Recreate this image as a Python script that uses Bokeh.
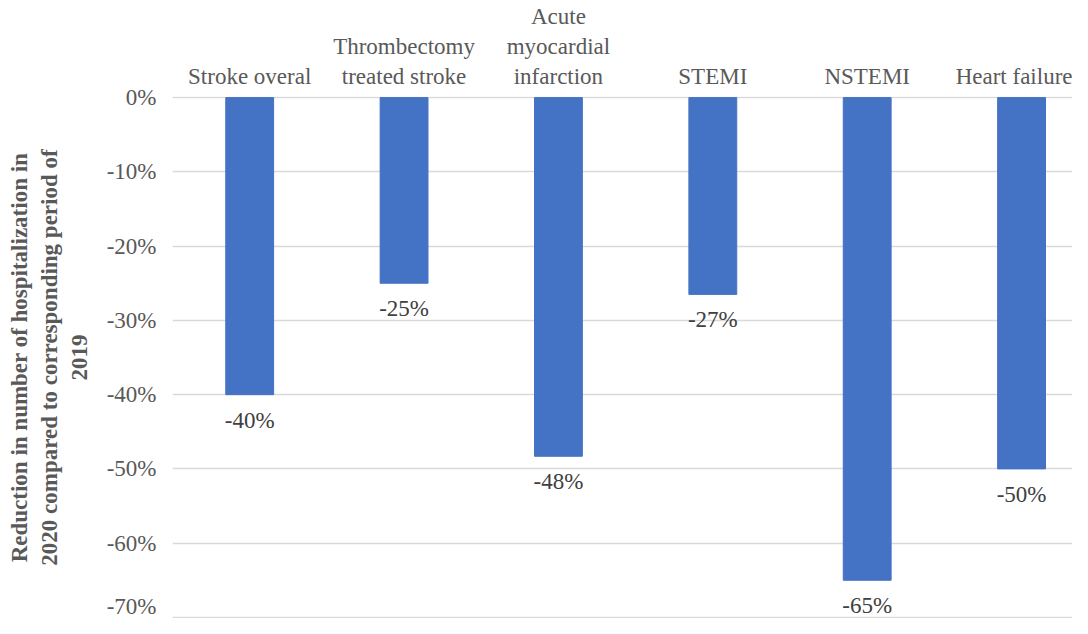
from bokeh.plotting import figure
from bokeh.models import Range1d, FixedTicker, NumeralTickFormatter, ColumnDataSource
from bokeh.core.properties import value
from bokeh.embed import file_html
from bokeh.resources import INLINE

categories = ["Stroke overal", "Thrombectomy\ntreated stroke", "Acute\nmyocardial\ninfarction",
              "STEMI", "NSTEMI", "Heart failure"]
values = [-0.40, -0.25, -0.483, -0.265, -0.65, -0.50]
labels = ["-40%", "-25%", "-48%", "-27%", "-65%", "-50%"]
y_ticks = [0, -0.1, -0.2, -0.3, -0.4, -0.5, -0.6, -0.7]

FONT = "Liberation Serif"

# category slots on a numeric axis (slot i centred at i + 0.5); the
# reference plot area is cut at the right edge, so the range ends early
xpos = [i + 0.5 for i in range(len(categories))]

src = ColumnDataSource(dict(x=xpos, val=values, lab=labels))

p = figure(width=1072, height=618, output_backend="svg", toolbar_location=None,
           x_range=Range1d(0, 5.83),
           y_range=Range1d(-0.7015, 0.0015),
           x_axis_location="above",
           min_border_left=172, min_border_top=89, min_border_bottom=0, min_border_right=0)
p.outline_line_color = None
p.background_fill_color = "white"
p.border_fill_color = "white"

p.vbar(x="x", top=0, bottom="val", width=0.31, source=src,
       fill_color="#4472C4", line_color="#4472C4")

p.text(x="x", y="val", text="lab", source=src, y_offset=13,
       text_align="center", text_baseline="top",
       text_font=value(FONT), text_font_size="23px", text_color="#404040")

# category axis on top
xa = p.xaxis[0]
xa.ticker = FixedTicker(ticks=xpos)
xa.major_label_overrides = {x: c for x, c in zip(xpos, categories)}
xa.axis_line_color = None
xa.major_tick_line_color = None
xa.major_tick_out = 0
xa.minor_tick_line_color = None
xa.minor_tick_out = 0
xa.major_label_text_font = FONT
xa.major_label_text_font_size = "23px"
xa.major_label_text_color = "#595959"
xa.major_label_standoff = 8

# value axis
ya = p.yaxis[0]
ya.ticker = FixedTicker(ticks=y_ticks)
ya.formatter = NumeralTickFormatter(format="0%")
ya.axis_line_color = None
ya.major_tick_line_color = None
ya.major_tick_out = 0
ya.minor_tick_line_color = None
ya.minor_tick_out = 0
ya.major_label_text_font = FONT
ya.major_label_text_font_size = "23px"
ya.major_label_text_color = "#595959"
ya.major_label_standoff = 16
ya.axis_label = "Reduction in number of hospitalization in\n2020 compared to corresponding period of\n2019"
ya.axis_label_text_font = FONT
ya.axis_label_text_font_size = "23px"
ya.axis_label_text_font_style = "bold"
ya.axis_label_text_color = "#595959"
ya.axis_label_standoff = 12

p.xgrid.grid_line_color = None
p.ygrid.ticker = FixedTicker(ticks=y_ticks)
p.ygrid.grid_line_color = "#D9D9D9"
p.ygrid.grid_line_width = 1.5

open("out.html", "w").write(file_html(p, INLINE))
